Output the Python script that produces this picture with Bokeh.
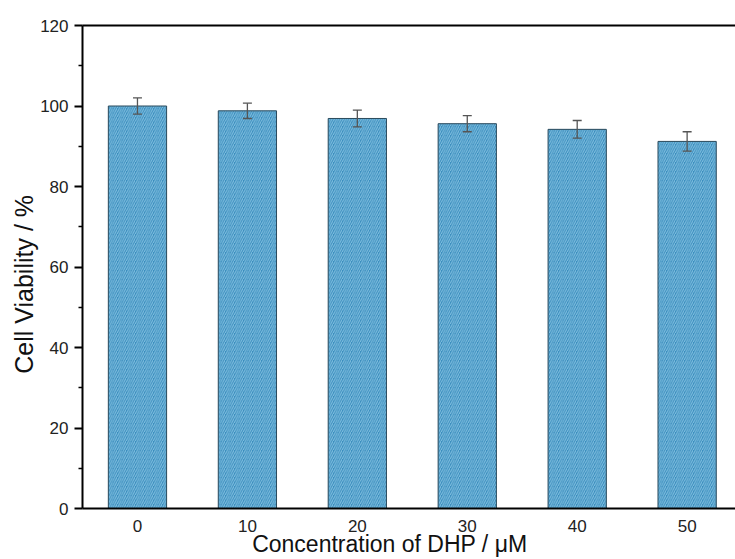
from bokeh.plotting import figure
from bokeh.models import ColumnDataSource, Whisker, LinearAxis, Range1d, FixedTicker
from bokeh.embed import file_html
from bokeh.resources import INLINE

concentrations = [0, 10, 20, 30, 40, 50]
viability = [100.0, 98.8, 96.9, 95.6, 94.2, 91.2]
errors = [2.0, 1.9, 2.1, 2.0, 2.2, 2.4]
y_ticks = [0, 20, 40, 60, 80, 100, 120]
x_title = "Concentration of DHP / \u03bcM"
y_title = "Cell Viability / %"

src = ColumnDataSource(dict(
    x=concentrations, top=viability,
    upper=[v + e for v, e in zip(viability, errors)],
    lower=[v - e for v, e in zip(viability, errors)],
))

p = figure(width=735, height=559, output_backend="svg", toolbar_location=None,
           x_range=Range1d(-5, 54.4), y_range=Range1d(0, 120),
           min_border_left=82, min_border_right=0, min_border_top=25, min_border_bottom=50)
p.outline_line_color = None
p.grid.visible = False
p.background_fill_color = "white"

p.vbar(x="x", top="top", width=5.3, bottom=0, source=src,
       fill_color="#3b8dbd", line_color="#2b4a5c", line_width=1,
       hatch_pattern="right_diagonal_line", hatch_color="#84c2e2",
       hatch_weight=1, hatch_scale=4.5)

w = Whisker(base="x", upper="upper", lower="lower", source=src,
            line_color="#555555", line_width=1.3, level="overlay")
w.upper_head.size = 9
w.lower_head.size = 9
w.upper_head.line_color = "#555555"
w.lower_head.line_color = "#555555"
w.upper_head.line_width = 1.3
w.lower_head.line_width = 1.3
p.add_layout(w)

ya = p.yaxis[0]
ya.ticker = FixedTicker(ticks=y_ticks, minor_ticks=[10, 30, 50, 70, 90, 110])
ya.axis_line_width = 2
ya.major_tick_line_width = 2
ya.minor_tick_line_width = 1.5
ya.major_tick_out = 8
ya.major_tick_in = 0
ya.minor_tick_out = 4
ya.minor_tick_in = 0
ya.major_label_text_font = "Liberation Sans"
ya.major_label_text_font_size = "17px"
ya.major_label_text_color = "#222222"
ya.major_label_standoff = 6
# trailing no-break spaces shift the centred title down to where the reference has it
ya.axis_label = y_title + "\u00a0" * 5
ya.axis_label_text_font = "Liberation Sans"
ya.axis_label_text_font_size = "25px"
ya.axis_label_text_font_style = "normal"
ya.axis_label_text_color = "#111111"
ya.axis_label_standoff = -1

xa = p.xaxis[0]
xa.ticker = FixedTicker(ticks=concentrations)
xa.axis_line_width = 2
xa.major_tick_line_color = None
xa.minor_tick_line_color = None
xa.major_label_text_font = "Liberation Sans"
xa.major_label_text_font_size = "17px"
xa.major_label_text_color = "#222222"
xa.major_label_standoff = 5
# trailing no-break spaces shift the centred title left as in the reference
xa.axis_label = x_title + "\u00a0" * 6
xa.axis_label_text_font = "Liberation Sans"
xa.axis_label_text_font_size = "23px"
xa.axis_label_text_font_style = "normal"
xa.axis_label_text_color = "#111111"
xa.axis_label_standoff = -4

top_axis = LinearAxis(axis_line_width=2, major_tick_line_color=None,
                      minor_tick_line_color=None, major_label_text_font_size="0px")
top_axis.ticker = FixedTicker(ticks=[])
p.add_layout(top_axis, "above")

open("out.html", "w").write(file_html(p, INLINE))
